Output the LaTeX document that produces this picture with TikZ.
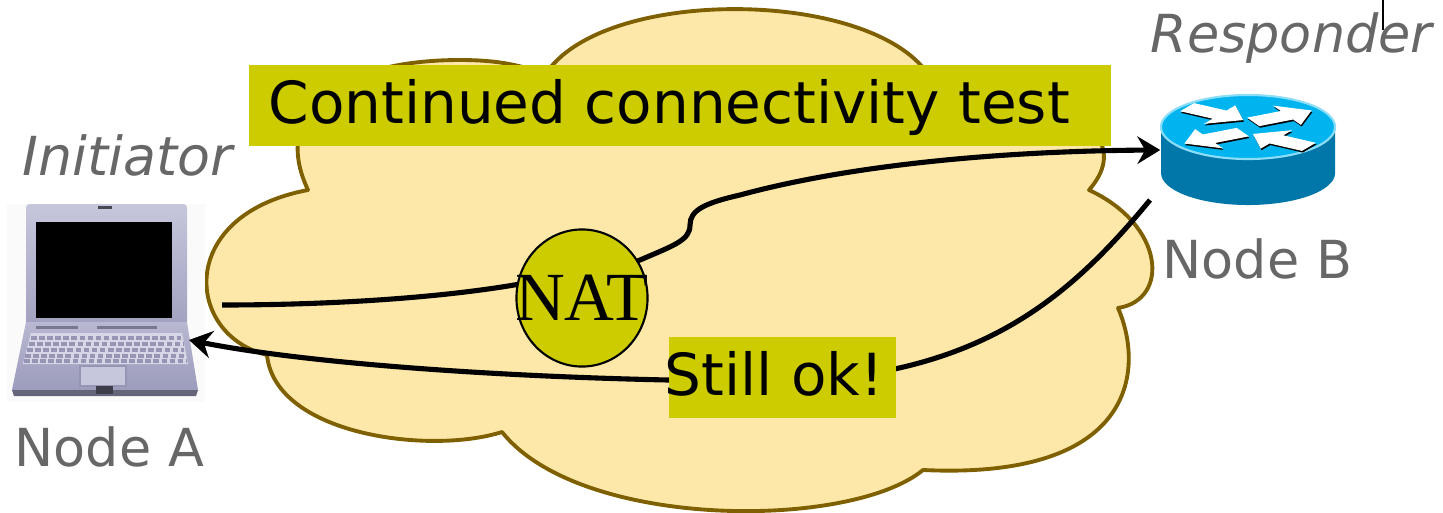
\documentclass[tikz,border=0pt]{standalone}
\usepackage{fontspec}
\setmainfont{DejaVu Sans}
\newfontfamily\natfont{Liberation Serif}
\usetikzlibrary{arrows.meta,shapes.geometric}

\definecolor{cloudfill}{HTML}{FDE8A9}
\definecolor{cloudline}{HTML}{7F6000}
\definecolor{labelfill}{HTML}{CCCC00}
\definecolor{captiongray}{HTML}{676767}
\definecolor{routertop}{HTML}{00B4F0}
\definecolor{routerside}{HTML}{0077A8}
\definecolor{lidtop}{HTML}{C6C6DC}
\definecolor{lidbot}{HTML}{A2A2C0}
\definecolor{basetop}{HTML}{B8B8D2}
\definecolor{basebot}{HTML}{9C9CBC}
\definecolor{keyface}{HTML}{D6D6E6}
\definecolor{keyline}{HTML}{9696B4}

\newcommand\lblsize{\fontsize{16.5pt}{19pt}\selectfont}
\newcommand\captsize{\fontsize{14.9pt}{17pt}\selectfont}
\newcommand\roleSize{\fontsize{15.3pt}{17pt}\selectfont}
\newcommand\natsize{\fontsize{19.6pt}{21pt}\selectfont}

\tikzset{
  cloudshape/.style={fill=cloudfill, draw=cloudline, line width=1.1pt, line join=round},
  labelbox/.style={rectangle, fill=labelfill, inner sep=0pt},
  labeltext/.style={font=\lblsize, text=black, inner sep=0pt, anchor=base west},
  caption/.style={font=\captsize, text=captiongray, inner sep=0pt, anchor=base west},
  conn/.style={line width=1.45pt, -{Stealth[length=6.5pt, width=7.8pt, inset=2.2pt]}},
  natbubble/.style={ellipse, draw=black, line width=0.6pt, fill=labelfill, inner sep=0pt}
}

\begin{document}
\begin{tikzpicture}[x=0.01cm, y=-0.01cm]
\useasboundingbox (0,0) rectangle (1443,512);

% ---------- network cloud ----------
\path[cloudshape] (308,190)
  .. controls (270,110) and (340,60) .. (460,60)
  .. controls (500,60) and (525,66) .. (545,75)
  .. controls (600,-12) and (860,-12) .. (925,70)
  .. controls (1010,80) and (1150,120) .. (1089,190)
  .. controls (1165,225) and (1170,300) .. (1118,308)
  .. controls (1145,370) and (1135,480) .. (923,470)
  .. controls (850,530) and (580,530) .. (502,432)
  .. controls (430,455) and (275,435) .. (267,355)
  .. controls (185,335) and (175,215) .. (308,190) -- cycle;

% ---------- laptop (Node A) ----------
\node[minimum width=1.97cm, minimum height=1.97cm, inner sep=0pt] (laptop) at (106,303) {};
\fill[black!2] (laptop.north west) rectangle (laptop.south east);
% lid
\shade[top color=lidtop, bottom color=lidbot, rounded corners=1pt]
  (26,204) rectangle (187,325);
\fill[black!55!lidbot] (98,206) rectangle (112,209);
\fill[black] (36,222) rectangle (172,318);
% base
\shade[top color=basetop, bottom color=basebot]
  (26,322) -- (187,322) -- (198,390) -- (12,390) -- cycle;
\fill[keyline!80!black] (36,326) rectangle (78,329);
\fill[keyline!80!black] (97,326) rectangle (157,329);
% keyboard
\fill[keyface] (31,333) -- (182,333) -- (188,364) -- (23,364) -- cycle;
\foreach \ky/\kl/\kr in {338/31/181, 344/29/183, 350/27/184, 356/25/186, 361/24/187}
  \draw[keyline, line width=1.1pt, dash pattern=on 1.6pt off 0.7pt] (\kl,\ky) -- (\kr,\ky);
% palm rest and touchpad
\fill[lidtop] (80,366) rectangle (126,386);
\draw[keyline, line width=0.4pt] (80,366) rectangle (126,386);
% front edge
\fill[black!35!basebot] (12,390) -- (198,390) -- (196,396) -- (14,396) -- cycle;
\fill[black!60!basebot] (96,386) rectangle (113,394);

% ---------- router (Node B) ----------
\node[minimum width=1.74cm, minimum height=1.1cm, inner sep=0pt] (router) at (1248,150) {};
\fill[routerside] (1161,127) -- (1161,173)
  arc[start angle=180, end angle=360, x radius=0.87cm, y radius=0.32cm]
  -- (1335,127) -- cycle;
\fill[routertop] (1248,127) ellipse[x radius=0.87cm, y radius=0.32cm];
\draw[white!55!routertop, line width=0.6pt] (1248,127) ellipse[x radius=0.87cm, y radius=0.32cm];
% the four direction arrows on top: a dark copy for the edge, then the white glyph
\foreach \ox/\oy/\glyph in {0.8/1.6/black, 0/0/white} {
  \begin{scope}[shift={(1248+\ox,127+\oy)}, xscale=87, yscale=32]
    \foreach \sx/\sy/\ang in {-0.7/-0.62/-32, 0.06/-0.16/28, -0.06/0.16/208, 0.7/0.62/148} {
      \begin{scope}[shift={(\sx,\sy)}, rotate=\ang]
        \fill[\glyph] (0,-0.15) -- (0.44,-0.15) -- (0.44,-0.34) -- (0.76,0)
          -- (0.44,0.34) -- (0.44,0.15) -- (0,0.15) -- cycle;
      \end{scope}
    }
  \end{scope}
}

% ---------- connectors ----------
\coordinate (aOut) at (222,305);
\coordinate (aIn) at (189,340);
\coordinate (bOut) at (1150,200);

\draw[conn] (aOut)
  .. controls (330,305) and (440,298) .. (520,284)
  .. controls (580,273) and (610,272) .. (640,260)
  .. controls (675,245) and (690,240) .. (690,225)
  .. controls (690,210) and (705,203) .. (740,195)
  .. controls (850,165) and (1000,151) .. (router.west);

\draw[conn] (bOut)
  .. controls (1080,285) and (1010,345) .. (890,370)
  -- (668,380)
  .. controls (480,376) and (300,362) .. (aIn);

% ---------- NAT box ----------
\node[natbubble, minimum width=1.31cm, minimum height=1.37cm] (nat) at (582,298) {};
\node[font=\natfont\natsize, inner sep=0pt] (natlabel) at (nat.center) {NAT};

% ---------- labels ----------
\node[labelbox, minimum width=8.62cm, minimum height=0.81cm, anchor=north west] (ctbox) at (248,64) {};
\node[labeltext] (cttext) at (268,123) {Continued connectivity test};

\node[labelbox, minimum width=2.27cm, minimum height=0.81cm, anchor=north west] (okbox) at (668,336) {};
\node[labeltext] (oktext) at (664,395) {Still ok!};

\node[caption, font=\roleSize\itshape] (initiator) at (22,175) {Initiator};
\node[caption, font=\captsize\itshape] (responder) at (1150,52) {Responder};
\node[caption] (nodeA) at (14,466) {Node A};
\node[caption] (nodeB) at (1162,278) {Node B};

\draw[line width=0.4pt] (1383,0) -- (1383,30);
\end{tikzpicture}
\end{document}
